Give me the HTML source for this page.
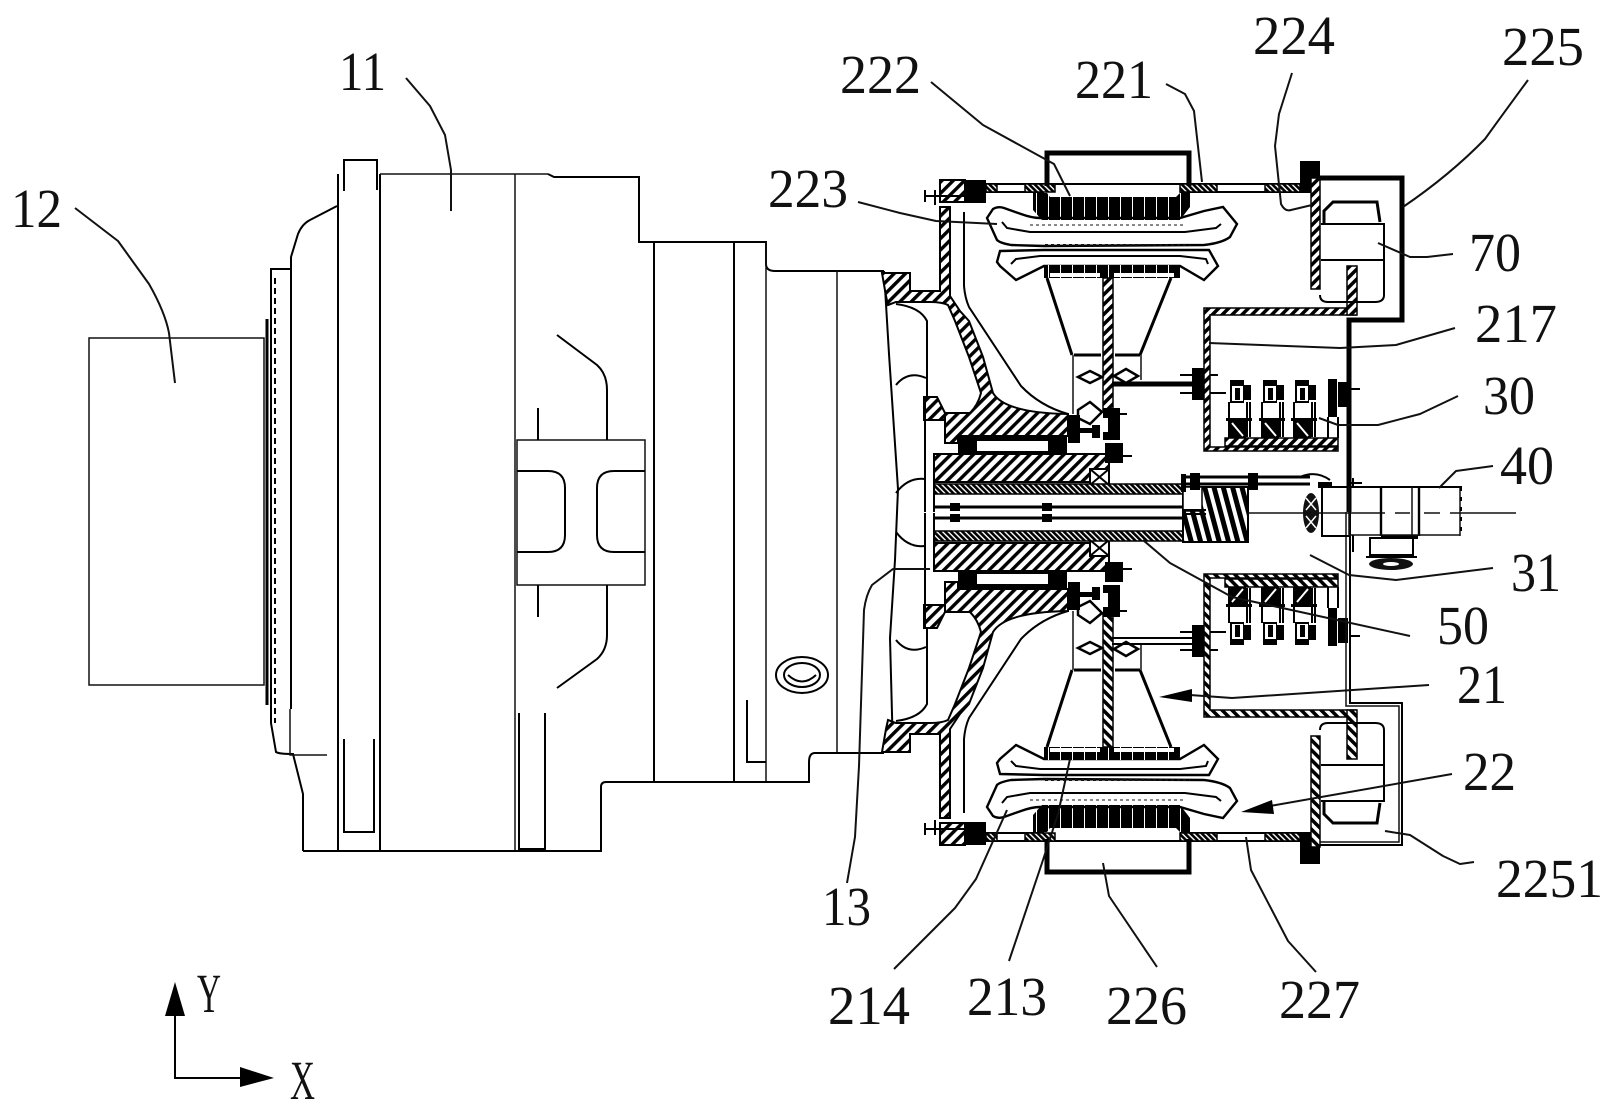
<!DOCTYPE html>
<html><head><meta charset="utf-8"><style>
html,body{margin:0;padding:0;background:#fff;width:1616px;height:1112px;overflow:hidden}
svg{display:block}
text{font-family:"Liberation Serif",serif;font-size:55px;fill:#111}
.t{fill:none;stroke:#111;stroke-width:1.5}
.m{fill:none;stroke:#000;stroke-width:2}
.b{fill:none;stroke:#000;stroke-width:3}
.k{fill:#000;stroke:none}
.l{fill:none;stroke:#111;stroke-width:2;stroke-linejoin:round}
.h{fill:var(--hf,url(#hatch));stroke:#000;stroke-width:2}
.hw{fill:url(#hatchW);stroke:#000;stroke-width:1.5}
.f{fill:var(--ff,url(#fine));stroke:#000;stroke-width:1.5}
</style></head><body>
<svg width="1616" height="1112" viewBox="0 0 1616 1112" xmlns="http://www.w3.org/2000/svg">
<defs>
<pattern id="hatch" width="8" height="8" patternUnits="userSpaceOnUse" patternTransform="rotate(45)"><rect width="8" height="8" fill="#fff"/><rect width="3.4" height="8" fill="#000"/></pattern>
<pattern id="hatchM" width="8" height="8" patternUnits="userSpaceOnUse" patternTransform="rotate(-45)"><rect width="8" height="8" fill="#fff"/><rect width="3.4" height="8" fill="#000"/></pattern>
<pattern id="hatchW" width="7" height="7" patternUnits="userSpaceOnUse" patternTransform="rotate(45)"><rect width="7" height="7" fill="#fff"/><rect width="3.5" height="7" fill="#000"/></pattern>
<pattern id="fine" width="4" height="4" patternUnits="userSpaceOnUse" patternTransform="rotate(-45)"><rect width="4" height="4" fill="#fff"/><rect width="2.6" height="4" fill="#000"/></pattern>
<pattern id="fineM" width="4" height="4" patternUnits="userSpaceOnUse" patternTransform="rotate(45)"><rect width="4" height="4" fill="#fff"/><rect width="2.6" height="4" fill="#000"/></pattern>
<pattern id="rev" width="9" height="9" patternUnits="userSpaceOnUse" patternTransform="rotate(-15)"><rect width="9" height="9" fill="#fff"/><rect width="5" height="9" fill="#000"/></pattern>
<pattern id="stripe" width="12" height="10" patternUnits="userSpaceOnUse"><rect width="12" height="10" fill="#000"/><rect x="4" width="1" height="10" fill="#fff"/></pattern>
<g id="relay">
<rect x="1230" y="380" width="14" height="23" fill="#000"/>
<rect x="1232" y="386" width="11" height="15" fill="#fff"/>
<rect x="1235" y="388" width="5" height="12" class="k"/>
<rect x="1244" y="385" width="7" height="15" class="k"/>
<path class="m" d="M1229,402V418M1247,402V437M1250,402V437"/>
<rect x="1226" y="418" width="26" height="3" class="k"/>
<rect x="1228" y="421" width="18" height="17" class="k"/>
<path d="M1232,423L1243,436" stroke="#fff" stroke-width="2"/>
</g>
<g id="half">
<!-- plate -->
<path class="m" d="M986,184H1300M986,192H1044M1180,192H1300"/>
<rect x="940" y="180" width="25" height="22" class="h"/>
<rect x="965" y="180" width="21" height="23" class="k"/>
<rect x="986" y="184" width="11" height="8" class="f"/>
<rect x="1025" y="184" width="30" height="8" class="f"/>
<rect x="1180" y="184" width="37" height="8" class="f"/>
<rect x="1265" y="184" width="35" height="8" class="f"/>
<rect x="1300" y="161" width="20" height="32" class="k"/>
<path class="m" d="M925,196H985M925,190V202M935,190V205"/>
<!-- stator -->
<path d="M1033,193H1047L1050,197H1176L1180,193H1190V207L1180,220H1042L1033,210Z" fill="url(#stripe)"/>
<!-- winding outer -->
<path class="b" style="stroke-width:2.4" d="M987,218L993,209Q998,206 1004,208L1021,214Q1032,218 1040,218H1180L1204,211L1223,207L1237,224L1230,237Q1222,243 1204,245L1044,246L1011,245Q1000,243 997,240Z" fill="#fff"/>
<path class="b" style="stroke-width:2" d="M1002,222L1007,228L1030,232H1185L1216,228L1221,224" fill="none"/>
<path d="M1030,225H1185" stroke="#111" stroke-width="1" stroke-dasharray="3 3"/>
<path d="M1045,245H1190" stroke="#111" stroke-width="2" stroke-dasharray="3 3"/>
<!-- winding inner -->
<path class="b" style="stroke-width:2.4" d="M1000,251L1044,250H1209L1218,266L1204,280L1180,266H1044L1016,280L1000,266L997,262Z" fill="#fff"/>
<path class="b" style="stroke-width:2" d="M1011,264L1016,259L1040,256H1180L1206,259L1208,264" fill="none"/>
<rect x="1044" y="265" width="136" height="13" fill="url(#stripe)"/>
<rect x="1050" y="273" width="50" height="4" fill="#fff"/><rect x="1114" y="273" width="60" height="4" fill="#fff"/>
<!-- cones -->
<path class="b" d="M1047,278L1072,355M1171,278L1140,355"/>
<path d="M1074,355H1101M1115,355H1140" stroke="#000" stroke-width="3"/>
<path class="t" d="M1073,355V414M1141,355V380"/>
<rect x="1103" y="278" width="10" height="134" class="hw"/>
<path class="b" style="stroke-width:2.5" d="M1078,377L1090,371L1102,377L1090,383Z M1114,376L1126,369L1138,376L1126,383Z" fill="#fff"/>
<path class="b" style="stroke-width:2.5" d="M1078,410L1090,402L1102,412L1090,424L1078,418Z" fill="#fff"/>
<!-- bolt -->
<rect x="1192" y="368" width="14" height="32" class="k"/>
<path class="m" d="M1180,375H1218M1180,393H1226"/>
<!-- housing walls -->
<path class="hw" d="M1204,308H1356V315H1210V447H1338V451H1204V309Z"/>
<rect x="1347" y="266" width="10" height="49" class="hw"/>
<rect x="1311" y="178" width="9" height="111" class="hw"/>
<rect x="1225" y="438" width="113" height="8" class="hw"/>
<!-- cap 70 -->
<path class="m" d="M1321,224H1384V295Q1384,302 1375,302H1328Q1320,302 1320,295M1321,260H1384"/>
<path class="b" d="M1324,223V211L1333,202H1377L1380,222"/>
<!-- relays -->
<use href="#relay"/><use href="#relay" x="33"/><use href="#relay" x="65"/>
<rect x="1328" y="379" width="9" height="38" class="k"/>
<rect x="1338" y="382" width="10" height="25" class="k"/>
<path class="m" d="M1349,389H1360M1328,417V438M1338,417V438"/>
<!-- flange -->
<path class="h" d="M882,273H910V291H940V207H950V296L960,311L969,321L983,357L993,393Q1005,413 1068,414V436H958V443H945V413H970Q978,405 981,393L969,357L955,321L948,305Q942,302 930,302H896L888,305L886,296Z"/>
<path class="h" d="M924,397H937L945,413V420H924Z"/>
<path class="m" d="M896,304Q920,307 927,321V396"/>
<path class="m" d="M964,212V286Q965,298 969,307L1021,386Q1040,406 1068,414"/>
<path class="m" d="M896,385Q908,370 926,378M896,493Q908,477 925,479"/>
<path class="m" d="M925,396V512"/>
<!-- bearing -->
<rect x="958" y="435" width="19" height="19" class="k"/><rect x="1048" y="435" width="19" height="19" class="k"/>
<rect x="958" y="435" width="109" height="6" class="k"/>
<rect x="958" y="451" width="109" height="3" class="k"/>
<!-- shaft -->
<path class="h" d="M934,454H1109V469H1090V482H934Z"/>
<path class="m" d="M1090,469H1109V485H1090ZM1090,469L1109,485M1109,469L1090,485"/>
<rect x="934" y="484" width="249" height="10" class="f"/>
<path class="m" d="M934,454V512"/>
<path class="b" d="M934,507H1183"/>
<path class="k" d="M950,503h10v8h-10zM1042,503h10v8h-10z"/>
<!-- gear -->
<rect x="1068" y="415" width="12" height="28" class="k"/>
<path class="k" d="M1080,428H1092V425H1100V438H1092V433H1080ZM1103,408H1120V440H1103V432H1108V418H1103Z"/>
<rect x="1105" y="443" width="18" height="20" class="k"/>
<path class="m" d="M1120,456H1132M1113,414H1127"/>
</g>
</defs>

<rect width="1616" height="1112" fill="#fff"/>

<!-- LEFT MOTOR -->
<rect x="89" y="338" width="175" height="347" class="t"/>
<path class="b" d="M267,319V705"/>
<path class="m" d="M270,269H291V257L298,234Q302,224 310,220L337,206"/>
<path class="m" d="M271,269V723L276,752Q279,754 293,754L303,794V851"/>
<path class="m" d="M275,278V723" stroke-dasharray="6 4"/>
<path class="m" d="M291,257V709"/>
<path class="t" d="M290,709V755H327"/>
<path class="m" d="M338,174V851"/>
<path class="m" d="M380,174V851"/>
<path class="m" d="M344,191V160H377V190"/>
<path class="t" d="M380,174H548"/>
<path class="m" d="M548,174L554,177H639V242H766V264Q766,271 775,271H884"/>
<path class="t" d="M515,174V851"/>
<path class="m" d="M654,242V782M734,242V782"/>
<path class="t" d="M766,242V782M837,271V752"/>
<path class="m" d="M303,851H601V787Q601,782 606,782H809V762Q809,753 815,753H884"/>
<path class="m" d="M344,739V832H374V739"/>
<path class="m" d="M519,713V849H545V713"/>
<rect x="517" y="440" width="128" height="145" class="t"/>
<path class="m" d="M517,471H548Q565,471 565,488V535Q565,552 548,552H517"/>
<path class="m" d="M645,471H614Q597,471 597,488V535Q597,552 614,552H645"/>
<path class="m" d="M538,408V440M538,585V617"/>
<path class="m" d="M557,335L597,365Q607,374 607,390V440M607,585V635Q607,650 597,659L557,688"/>
<ellipse cx="802" cy="675" rx="26" ry="18" class="m"/>
<ellipse cx="802" cy="675" rx="18" ry="12" class="m"/>
<path class="m" d="M788,675Q802,688 816,675"/>
<path class="m" d="M747,700V762H766"/>
<path class="m" d="M884,271L889,354L898,489L895,560L890,638L893,752"/>

<!-- RIGHT ASSEMBLY -->
<use href="#half"/>
<use href="#half" transform="matrix(1 0 0 -1 0 1025)" style="--hf:url(#hatchM);--ff:url(#fineM)"/>

<!-- top-only: box 221, thick casing -->
<path class="b" style="stroke-width:5" d="M1047,186V153H1189V186"/>
<path class="b" style="stroke-width:5" d="M1320,178H1402V320H1349V512"/>
<path class="b" style="stroke-width:5" d="M1112,384H1194"/>
<!-- bottom-only: box 226, double thin casing -->
<path class="b" style="stroke-width:5" d="M1047,839V872H1189V839"/>
<path class="m" d="M1350,512V703H1402V845H1320"/>
<path class="t" d="M1346,512V706H1399V842H1320"/>
<path class="m" d="M1112,638H1194M1112,644H1194"/>

<!-- center block -->
<rect x="1183" y="487" width="65" height="55" fill="url(#rev)" stroke="#000" stroke-width="2"/>
<rect x="1183" y="487" width="19" height="24" fill="#fff" stroke="#000" stroke-width="1.5"/>
<path class="m" d="M1183,510H1206M1183,514H1206"/>
<path class="b" d="M1183,477H1310M1183,484H1310"/>
<path class="k" d="M1190,473h10v17h-10zM1248,473h10v17h-10zM1181,474h5v18h-5z"/>
<ellipse cx="1311" cy="513" rx="8" ry="20" fill="#111"/>
<path d="M1306,498L1316,510M1316,498L1306,510M1306,516L1316,528M1316,516L1306,528" stroke="#fff" stroke-width="1.5"/>
<path class="m" d="M1300,477Q1316,470 1330,480"/>
<rect x="1318" y="482" width="14" height="6" class="k"/>
<path class="t" d="M1248,513H1385M1395,513H1410M1424,513H1440M1450,513H1516"/>
<!-- motor 40 -->
<path class="m" d="M1321,487H1462M1322,488V536H1349"/>
<path class="b" style="stroke-width:2.4" d="M1381,487V536M1419,487V536"/>
<path class="t" d="M1412,487V536M1460,487V536"/>
<path class="b" style="stroke-width:4" d="M1381,537H1418"/>
<path class="m" d="M1461,487V537" stroke-dasharray="4 6"/>
<path class="t" d="M1349,487V535H1460"/>
<path class="m" d="M1353,478V488M1348,483H1362M1353,535V552"/>
<rect x="1370" y="538" width="43" height="17" fill="#fff" stroke="#000" stroke-width="2"/>
<path class="m" d="M1366,557H1417"/>
<ellipse cx="1391" cy="564" rx="22" ry="6" fill="#111"/>
<ellipse cx="1391" cy="564" rx="8" ry="2" fill="#fff"/>

<!-- LEADERS -->
<path class="l" d="M75,208L118,241L149,284Q165,312 169,333L175,383"/>
<path class="l" d="M406,78L430,106L445,135L451,170V211"/>
<path class="l" d="M847,883L855,837L859,766L864,610Q866,595 872,585L893,569H930"/>
<path class="l" d="M858,202L900,213L936,221L997,224"/>
<path class="l" d="M931,82L983,125L1054,164L1070,196"/>
<path class="l" d="M1166,84L1185,94L1194,111L1202,182"/>
<path class="l" d="M1292,73L1279,114L1275,146L1281,204Q1285,212 1291,210L1312,205"/>
<path class="l" d="M1528,80Q1495,125 1485,139Q1450,175 1403,207"/>
<path class="l" d="M1378,243L1410,257H1427L1453,254"/>
<path class="l" d="M1209,343L1340,348L1396,345L1455,328"/>
<path class="l" d="M1319,418L1338,425H1378L1420,414L1458,396"/>
<path class="l" d="M1439,488L1456,471L1493,466"/>
<path class="l" d="M1310,555L1349,575L1396,580L1493,568"/>
<path class="l" d="M1143,540L1170,563L1232,597L1410,636"/>
<path class="l" d="M1190,695L1232,698L1429,685"/>
<polygon points="1159,697 1192,689 1192,702" fill="#000"/>
<path class="l" d="M1270,806L1452,774"/>
<polygon points="1241,812 1272,800 1274,814" fill="#000"/>
<path class="l" d="M1385,831L1410,835L1443,856L1460,864L1474,862"/>
<path class="l" d="M1246,837L1251,870L1288,941L1316,972"/>
<path class="l" d="M1103,863L1109,896L1157,967"/>
<path class="l" d="M1070,759L1058,814L1042,863L1009,961"/>
<path class="l" d="M1007,810L976,879L955,908L894,969"/>

<!-- AXES -->
<path class="m" d="M175,1016V1078H241"/>
<polygon points="175,982 165,1016 185,1016" fill="#000"/>
<polygon points="274,1078 240,1067 240,1087" fill="#000"/>

<!-- LABELS -->
<text x="11" y="227" textLength="51" lengthAdjust="spacingAndGlyphs">12</text>
<text x="339" y="90" textLength="47" lengthAdjust="spacingAndGlyphs">11</text>
<text x="840" y="93" textLength="81" lengthAdjust="spacingAndGlyphs">222</text>
<text x="1075" y="98" textLength="78" lengthAdjust="spacingAndGlyphs">221</text>
<text x="1253" y="54" textLength="82" lengthAdjust="spacingAndGlyphs">224</text>
<text x="1502" y="65" textLength="82" lengthAdjust="spacingAndGlyphs">225</text>
<text x="768" y="207" textLength="80" lengthAdjust="spacingAndGlyphs">223</text>
<text x="1469" y="271" textLength="52" lengthAdjust="spacingAndGlyphs">70</text>
<text x="1475" y="342" textLength="82" lengthAdjust="spacingAndGlyphs">217</text>
<text x="1483" y="414" textLength="52" lengthAdjust="spacingAndGlyphs">30</text>
<text x="1500" y="484" textLength="54" lengthAdjust="spacingAndGlyphs">40</text>
<text x="1511" y="591" textLength="50" lengthAdjust="spacingAndGlyphs">31</text>
<text x="1437" y="644" textLength="52" lengthAdjust="spacingAndGlyphs">50</text>
<text x="1457" y="703" textLength="50" lengthAdjust="spacingAndGlyphs">21</text>
<text x="1463" y="790" textLength="53" lengthAdjust="spacingAndGlyphs">22</text>
<text x="1496" y="897" textLength="107" lengthAdjust="spacingAndGlyphs">2251</text>
<text x="822" y="925" textLength="49" lengthAdjust="spacingAndGlyphs">13</text>
<text x="828" y="1024" textLength="82" lengthAdjust="spacingAndGlyphs">214</text>
<text x="967" y="1015" textLength="80" lengthAdjust="spacingAndGlyphs">213</text>
<text x="1106" y="1024" textLength="81" lengthAdjust="spacingAndGlyphs">226</text>
<text x="1279" y="1018" textLength="81" lengthAdjust="spacingAndGlyphs">227</text>
<text x="197" y="1012" textLength="24" lengthAdjust="spacingAndGlyphs">Y</text>
<text x="290" y="1099" textLength="25" lengthAdjust="spacingAndGlyphs">X</text>
</svg>
</body></html>
